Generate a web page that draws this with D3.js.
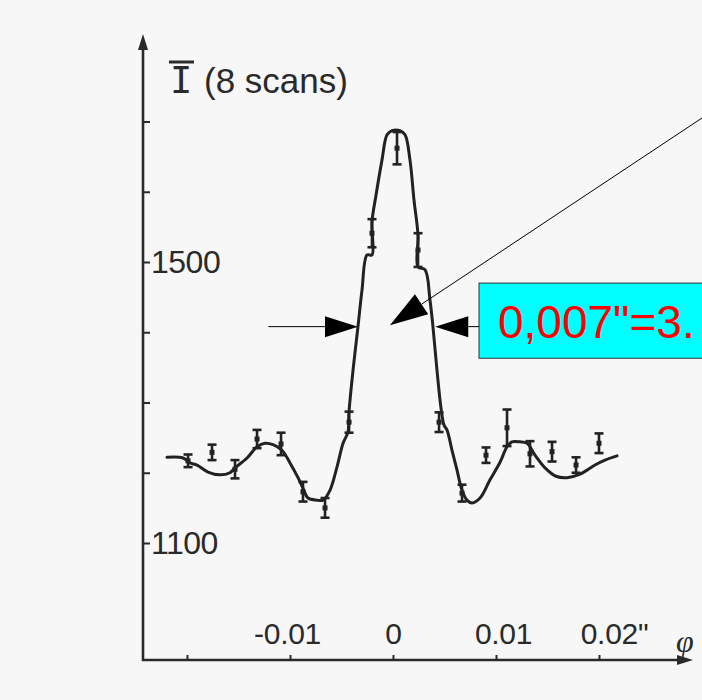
<!DOCTYPE html>
<html>
<head>
<meta charset="utf-8">
<script src="https://cdn.jsdelivr.net/npm/d3@7"></script>
<style>
  html, body { margin: 0; padding: 0; background: #f7f7f7; }
  svg { display: block; }
</style>
</head>
<body>
<div id="chart"></div>
<script>
// ---------------- data ----------------
const xTicks = [-0.02, -0.01, 0, 0.01, 0.02];
const xTickLabels = ["", "-0.01", "0", "0.01", "0.02\""];
const yTicks = [1100, 1200, 1300, 1400, 1500, 1600, 1700];
const yTickLabels = ["1100", "", "", "", "1500", "", ""];

// measured points (mean of 8 scans) with error bars
const pointPhi = [-0.0199, -0.01757, -0.01534, -0.0132, -0.01087, -0.00874, -0.0066, -0.00427, -0.00204,
                  0.00039, 0.00243, 0.00447, 0.0067, 0.00903, 0.01107, 0.0133, 0.01544, 0.01777, 0.02];
const pointI   = [1217, 1229, 1205, 1248, 1241, 1173, 1150, 1272, 1541,
                  1662, 1517, 1272, 1171, 1225, 1264, 1227, 1230, 1211, 1242];
const pointErr = [9, 11, 13, 13, 16, 14, 14, 15, 20,
                  23, 24, 14, 12, 11, 26, 18, 14, 11, 14];

// hand-drawn fitted curve
const curvePhi = [-0.02194, -0.02039, -0.01971, -0.01903, -0.01796, -0.0168, -0.01583, -0.01534, -0.01417, -0.0132,
                  -0.01243, -0.01165, -0.01078, -0.01, -0.00922, -0.00874, -0.00825, -0.00738, -0.0068, -0.00612,
                  -0.00544, -0.00485, -0.00437, -0.00427, -0.00388, -0.0034, -0.00301, -0.00252, -0.00204, -0.00204,
                  -0.00165, -0.00107, -0.00058, -0.0001, 0.00068, 0.00117, 0.00165, 0.00204, 0.00243, 0.00243,
                  0.00311, 0.00359, 0.00388, 0.00427, 0.00466, 0.00495, 0.00524, 0.00573, 0.00621, 0.0067,
                  0.00718, 0.00767, 0.00845, 0.00942, 0.01039, 0.01107, 0.01155, 0.01233, 0.01301, 0.01379,
                  0.01476, 0.01583, 0.01689, 0.01816, 0.01961, 0.02058, 0.02175];
const curveI   = [1222, 1221, 1214, 1211, 1201, 1197, 1200, 1207, 1221, 1237,
                  1242, 1240, 1232, 1214, 1193, 1178, 1164, 1161, 1161, 1175,
                  1208, 1242, 1258, 1287, 1346, 1408, 1460, 1510, 1510, 1557,
                  1595, 1645, 1681, 1687, 1687, 1681, 1645, 1588, 1538, 1493,
                  1489, 1446, 1408, 1346, 1292, 1268, 1261, 1232, 1204, 1175,
                  1161, 1157, 1164, 1190, 1215, 1237, 1244, 1244, 1242, 1225,
                  1207, 1195, 1193, 1198, 1211, 1218, 1224];

// annotation (in data units)
const annText = "0,007\"=3.";
const annLevel = 1408;
const annLeftStart = -0.0121, annLeftTip = -0.0034;
const annRightTip = 0.0041;
const annBoxPhi = 0.00835, annBoxTop = 1470, annBoxBottom = 1363;
const annDiagStart = [0.0300, 1705], annDiagTip = [-0.0003, 1410];

// ---------------- drawing ----------------
const W = 702, H = 700;
const ink = "#2a2a2a";
const svg = d3.select("#chart").append("svg").attr("width", W).attr("height", H);
svg.append("rect").attr("width", W).attr("height", H).attr("fill", "#f7f7f7");

const x = d3.scaleLinear().domain([-0.02, 0.02]).range([187, 599]);
const y = d3.scaleLinear().domain([1100, 1500]).range([543, 262]);
const axisLeftX = 143, axisBottomY = 660, axisTopY = 34, axisRightX = 693;

// axis lines with arrows
svg.append("line").attr("x1", axisLeftX).attr("x2", axisLeftX).attr("y1", axisBottomY + 1).attr("y2", axisTopY + 12)
  .attr("stroke", ink).attr("stroke-width", 2.6);
svg.append("path").attr("d", `M${axisLeftX},${axisTopY} L${axisLeftX - 5},${axisTopY + 16} L${axisLeftX + 5},${axisTopY + 16} Z`).attr("fill", ink);
svg.append("line").attr("x1", axisLeftX - 1).attr("x2", axisRightX - 12).attr("y1", axisBottomY).attr("y2", axisBottomY)
  .attr("stroke", ink).attr("stroke-width", 2.6);
svg.append("path").attr("d", `M${axisRightX},${axisBottomY} L${axisRightX - 16},${axisBottomY - 5} L${axisRightX - 16},${axisBottomY + 5} Z`).attr("fill", ink);

// y axis ticks
const gy = svg.append("g").attr("transform", `translate(${axisLeftX},0)`)
  .call(d3.axisRight(y).tickValues(yTicks).tickSize(7).tickPadding(1).tickFormat((d, i) => yTickLabels[i]));
gy.select(".domain").remove();
gy.selectAll(".tick line").attr("stroke", ink).attr("stroke-width", 2);
gy.selectAll(".tick text").attr("fill", ink).attr("font-family", "Liberation Sans, Arial, sans-serif")
  .attr("font-size", 32).attr("letter-spacing", -0.5);

// x axis ticks (labels above axis)
const xDx = [0, -3, 0, 7, 15];
const gx = svg.append("g").attr("transform", `translate(0,${axisBottomY})`)
  .call(d3.axisTop(x).tickValues(xTicks).tickSize(5).tickPadding(11).tickFormat((d, i) => xTickLabels[i]));
gx.select(".domain").remove();
gx.selectAll(".tick line").attr("stroke", ink).attr("stroke-width", 2);
gx.selectAll(".tick text").attr("fill", ink).attr("font-family", "Liberation Sans, Arial, sans-serif")
  .attr("font-size", 30).attr("letter-spacing", -0.3).attr("dx", (d, i) => xDx[i]);

// axis titles
const title = svg.append("text").attr("x", 170).attr("y", 93).attr("fill", ink)
  .attr("font-family", "Liberation Sans, Arial, sans-serif").attr("font-size", 35);
title.append("tspan").attr("font-family", "DejaVu Sans Mono, monospace").attr("font-size", 37).text("I");
title.append("tspan").attr("dx", 2).text(" (8 scans)");
svg.append("line").attr("x1", 169).attr("x2", 194).attr("y1", 62).attr("y2", 62).attr("stroke", ink).attr("stroke-width", 3);
svg.append("text").attr("x", 676).attr("y", 652).attr("fill", ink)
  .attr("font-family", "Liberation Serif, serif").attr("font-style", "italic").attr("font-size", 32).text("φ");

// curve
const curveData = curvePhi.map((p, i) => [p, curveI[i]]);
const line = d3.line().x(d => x(d[0])).y(d => y(d[1])).curve(d3.curveCatmullRom.alpha(0.5));
svg.append("path").attr("d", line(curveData)).attr("fill", "none").attr("stroke", "#222")
  .attr("stroke-width", 3).attr("stroke-linejoin", "round").attr("stroke-linecap", "round");

// error bars
const pts = pointPhi.map((p, i) => ({ p, v: pointI[i], e: pointErr[i] }));
const eb = svg.append("g").selectAll("g").data(pts).join("g");
eb.append("line").attr("x1", d => x(d.p)).attr("x2", d => x(d.p))
  .attr("y1", d => y(d.v + d.e)).attr("y2", d => y(d.v - d.e)).attr("stroke", "#222").attr("stroke-width", 2.6);
eb.append("line").attr("x1", d => x(d.p) - 4.5).attr("x2", d => x(d.p) + 4.5)
  .attr("y1", d => y(d.v + d.e)).attr("y2", d => y(d.v + d.e)).attr("stroke", "#222").attr("stroke-width", 2.6);
eb.append("line").attr("x1", d => x(d.p) - 4.5).attr("x2", d => x(d.p) + 4.5)
  .attr("y1", d => y(d.v - d.e)).attr("y2", d => y(d.v - d.e)).attr("stroke", "#222").attr("stroke-width", 2.6);
eb.append("rect").attr("x", d => x(d.p) - 2.5).attr("y", d => y(d.v) - 2.5).attr("width", 5).attr("height", 5).attr("fill", "#222");

// annotation
function arrow(x1, y1, x2, y2, len, half) {
  const dx = x2 - x1, dy = y2 - y1, L = Math.hypot(dx, dy);
  const ux = dx / L, uy = dy / L;
  const bx = x2 - ux * len, by = y2 - uy * len;
  svg.append("line").attr("x1", x1).attr("y1", y1).attr("x2", bx).attr("y2", by).attr("stroke", "#000").attr("stroke-width", 1);
  svg.append("path").attr("d", `M${x2},${y2} L${bx - uy * half},${by + ux * half} L${bx + uy * half},${by - ux * half} Z`).attr("fill", "#000");
}
const boxX = x(annBoxPhi);
svg.append("rect").attr("x", boxX).attr("y", y(annBoxTop)).attr("width", 300).attr("height", y(annBoxBottom) - y(annBoxTop))
  .attr("fill", "#00ffff").attr("stroke", "#333").attr("stroke-width", 1);
svg.append("text").attr("x", boxX + 19).attr("y", y(annBoxBottom) - 20).attr("fill", "#ff0000")
  .attr("font-family", "Liberation Sans, Arial, sans-serif").attr("font-size", 46).text(annText);
arrow(x(annLeftStart), y(annLevel), x(annLeftTip), y(annLevel), 33, 10.5);
arrow(boxX, y(annLevel), x(annRightTip), y(annLevel), 33, 10.5);
arrow(x(annDiagStart[0]), y(annDiagStart[1]), x(annDiagTip[0]), y(annDiagTip[1]), 38, 12);
</script>
</body>
</html>
